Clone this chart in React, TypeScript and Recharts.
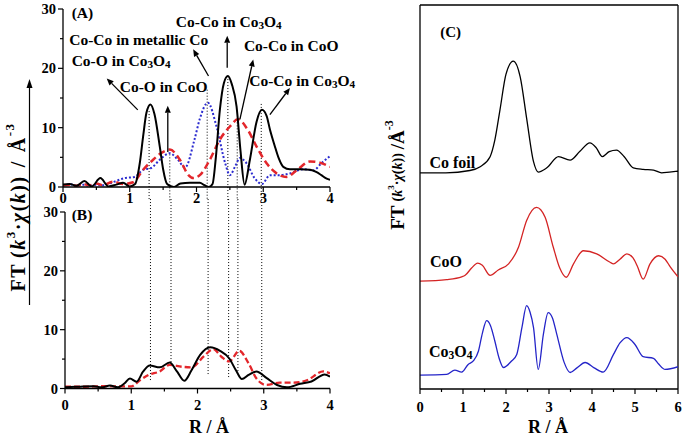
import React from 'react';
import { LineChart, Line, XAxis, YAxis, ReferenceLine, ReferenceDot } from 'recharts';

const FONT = "'Liberation Serif', 'Times New Roman', serif";

// ---------- Panel A (R / Å, FT magnitude) ----------
const A_SOLID: [number, number][] = [
  [0, 0.4], [0.1, 0.5], [0.2, 0.2], [0.32, 1.0], [0.43, 0.1], [0.56, 1.5], [0.68, 0.1], [0.8, 0.4], [0.9, 0.7],
  [1.0, 0.1], [1.08, 0.5], [1.15, 4], [1.2, 8.5], [1.25, 12.5], [1.31, 13.9], [1.37, 12.3], [1.45, 6.8], [1.5, 3],
  [1.56, 0.5], [1.66, 0], [1.76, 0.6], [1.9, 0.7], [2.05, 0.7], [2.12, 0.3], [2.18, 0], [2.24, 0.5], [2.29, 5],
  [2.35, 13], [2.41, 17.5], [2.47, 18.7], [2.53, 17.3], [2.6, 13.6], [2.66, 6], [2.72, 0.4], [2.8, 4.6], [2.9, 11],
  [2.98, 13], [3.05, 12], [3.1, 9.7], [3.17, 7], [3.23, 4.9], [3.3, 3.4], [3.4, 3.0], [3.55, 3.0], [3.7, 2.9],
  [3.8, 2.5], [3.87, 2.0], [3.95, 1.4], [4.0, 1.2],
];
const A_DASHED: [number, number][] = [
  [0, 0.3], [0.1, 0.4], [0.2, 0.2], [0.3, 0.5], [0.4, 0.3], [0.5, 0.6], [0.6, 0.3], [0.75, 0.9], [0.9, 0.5],
  [1.05, 0.8], [1.2, 2.9], [1.35, 4.6], [1.48, 5.8], [1.6, 6.3], [1.75, 4.6], [1.88, 2.0], [1.95, 1.5], [2.05, 2.0],
  [2.2, 4.6], [2.35, 8], [2.5, 10.2], [2.62, 11.4], [2.77, 9.6], [2.9, 6.8], [3.05, 4.0], [3.2, 2.3], [3.35, 1.7],
  [3.5, 2.8], [3.7, 4.3], [3.85, 4.1], [4.0, 3.4],
];
const A_DOTTED: [number, number][] = [
  [0, 0.2], [0.1, 0.5], [0.2, 0.2], [0.3, 0.4], [0.4, 0.2], [0.5, 0.4], [0.6, 0.3], [0.77, 0.9], [0.92, 1.5],
  [1.07, 1.7], [1.2, 2.9], [1.32, 3.2], [1.45, 4.6], [1.6, 5.7], [1.72, 4.6], [1.83, 3.3], [1.97, 8], [2.05, 11.5],
  [2.17, 14.2], [2.3, 10.2], [2.43, 4], [2.5, 2.0], [2.58, 3.5], [2.65, 4.9], [2.75, 4], [2.87, 1.5], [2.98, 0.5],
  [3.1, 2], [3.25, 2], [3.4, 2.3], [3.6, 3], [3.75, 2.8], [3.87, 4], [4.0, 5.2],
];

// ---------- Panel B ----------
const B_SOLID: [number, number][] = [
  [0, 0.2], [0.2, 0.3], [0.43, 0.4], [0.55, 0.2], [0.68, 0.5], [0.8, 0.2], [0.9, 0.9], [0.98, 1.7], [1.08, 1.15],
  [1.18, 2.9], [1.28, 3.9], [1.43, 3.6], [1.58, 4.4], [1.69, 2.9], [1.8, 1.3], [1.91, 3.1], [2.04, 5.7], [2.19, 7.0],
  [2.34, 6.4], [2.48, 5.1], [2.58, 3.1], [2.67, 1.6], [2.77, 2.3], [2.89, 2.9], [3.04, 1.8], [3.2, 0.6], [3.35, 0.2],
  [3.55, 0.8], [3.72, 1.2], [3.92, 2.4], [4.0, 2.0],
];
const B_DASHED: [number, number][] = [
  [0, 0.3], [0.3, 0.3], [0.6, 0.4], [0.88, 0.35], [1.0, 0.35], [1.13, 1.4], [1.26, 2.3], [1.43, 2.9], [1.58, 4.0],
  [1.76, 3.7], [1.91, 3.6], [2.09, 5.4], [2.24, 6.7], [2.36, 5.4], [2.48, 4.6], [2.63, 6.4], [2.77, 4.3], [2.89, 1.7],
  [3.04, 0.6], [3.24, 1.0], [3.45, 1.0], [3.65, 1.4], [3.9, 2.9], [4.0, 2.6],
];

// ---------- Panel C (offset curves, arbitrary units) ----------
const C_CO_FOIL: [number, number][] = [
  [0, 56.3], [0.6, 56.3], [1.16, 56.9], [1.4, 57.9], [1.63, 60.5], [1.74, 64.8], [1.86, 72.7], [2.0, 82], [2.17, 85.4],
  [2.33, 81.3], [2.48, 70.5], [2.64, 59.2], [2.75, 56.5], [2.95, 57.6], [3.22, 60.5], [3.49, 59.6], [3.72, 61.9],
  [3.95, 64.1], [4.1, 62.8], [4.24, 60.5], [4.4, 61.8], [4.57, 62.2], [4.75, 60.5], [4.96, 57.6], [5.19, 57.2],
  [5.43, 57.0], [5.62, 56.3], [5.8, 56.5], [6, 56.7],
];
const C_COO: [number, number][] = [
  [0, 28.1], [0.62, 28.5], [0.97, 29.2], [1.05, 29.6], [1.2, 31.5], [1.34, 32.8], [1.45, 32.2], [1.63, 29.6],
  [1.82, 31.0], [2.06, 32.6], [2.29, 36.9], [2.48, 43.9], [2.71, 47.3], [2.91, 44.7], [3.1, 36.9], [3.25, 31.5],
  [3.4, 29.1], [3.57, 32.6], [3.8, 36.0], [4.11, 35.2], [4.42, 33.0], [4.5, 32.6], [4.65, 33.8], [4.81, 35.2],
  [4.95, 34.2], [5.05, 32.1], [5.19, 28.6], [5.35, 32.6], [5.55, 34.7], [5.7, 33.8], [5.82, 31.8], [6, 29.2],
];
const C_CO3O4: [number, number][] = [
  [0, 3.6], [0.62, 3.8], [0.81, 4.9], [0.97, 4.4], [1.12, 6.4], [1.24, 7.3], [1.36, 9.9], [1.45, 14.5], [1.55, 17.8],
  [1.64, 16.5], [1.74, 12.5], [1.84, 8], [1.94, 5.6], [2.13, 7.3], [2.25, 9.0], [2.37, 16], [2.48, 21.7], [2.56, 20],
  [2.64, 16], [2.75, 5.1], [2.87, 14.3], [2.98, 19.9], [3.08, 18.5], [3.18, 14.3], [3.35, 7], [3.49, 4.3],
  [3.65, 5.5], [3.84, 6.9], [4.05, 5.5], [4.26, 4.4], [4.5, 9.0], [4.65, 12], [4.81, 13.4], [5.0, 11.6], [5.19, 8.4],
  [5.43, 8], [5.55, 6.5], [5.7, 5.1], [6, 5.8],
];

// ---------- ticks / guides / annotations ----------
const AB_X_TICKS = [0, 0.5, 1, 1.5, 2, 2.5, 3, 3.5, 4];
const C_X_TICKS = [0, 0.5, 1, 1.5, 2, 2.5, 3, 3.5, 4, 4.5, 5, 5.5, 6];
const AB_Y_TICKS = [0, 5, 10, 15, 20, 25, 30];
const GUIDE_R = [1.29, 1.6, 2.16, 2.47, 2.61, 2.97];
const GUIDE_TOP_A = [12.8, 5.5, 16.4, 18.7, 11.4, 14.0];
const GUIDE_BOTTOM_B = [1.4, 4.0, 2.3, 1.8, 2.7, 1.0];

const A_TEXTS = [
  { text: '(A)', r: 0.13, v: 28.5 },
  { text: 'Co-Co in Co3O4', r: 1.69, v: 26.9 },
  { text: 'Co-Co in metallic Co', r: 0.094, v: 24.0 },
  { text: 'Co-Co in CoO', r: 2.71, v: 22.9 },
  { text: 'Co-O in Co3O4', r: 0.13, v: 20.4 },
  { text: 'Co-O in CoO', r: 0.85, v: 16.0 },
  { text: 'Co-Co in Co3O4', r: 2.79, v: 17.0 },
];
const A_ARROWS = [
  { from: [1.12, 13.0], to: [0.655, 18.3] },
  { from: [1.57, 5.9], to: [1.57, 13.7] },
  { from: [2.18, 18.7], to: [1.95, 23.2] },
  { from: [2.46, 20.1], to: [2.46, 25.5] },
  { from: [2.65, 11.4], to: [2.85, 21.5] },
  { from: [3.1, 12.2], to: [3.4, 16.7] },
];
const B_TEXTS = [{ text: '(B)', r: 0.1, v: 28.6 }];
const C_TEXTS = [
  { text: '(C)', r: 0.47, v: 91.7, size: 15 },
  { text: 'Co foil', r: 0.22, v: 57.6, size: 16 },
  { text: 'CoO', r: 0.23, v: 31.8, size: 16 },
  { text: 'Co3O4', r: 0.21, v: 8.4, size: 16 },
];

const rows = (pts: [number, number][]) => pts.map(([r, v]) => ({ r, v }));

const RED = '#e3262b';
const BLUE = '#2b2bd0';

const chem = (s: string, size: number) => {
  const parts = s.split(/(\d)/).filter((p) => p !== '');
  let shifted = false;
  return parts.map((p, i) => {
    if (/^\d$/.test(p)) {
      const el = (
        <tspan key={i} fontSize={size * 0.72} dy={shifted ? 0 : 2}>
          {p}
        </tspan>
      );
      shifted = true;
      return el;
    }
    const el = (
      <tspan key={i} dy={shifted ? -2 : 0}>
        {p}
      </tspan>
    );
    shifted = false;
    return el;
  });
};

const textShape = (text: string, size: number) => (p: any) => (
  <text x={p.cx} y={p.cy} fontFamily={FONT} fontWeight="bold" fontSize={size} fill="#000">
    {chem(text, size)}
  </text>
);

const arrowShape = (p: any) => {
  const { x1, y1, x2, y2 } = p;
  const dx = x2 - x1;
  const dy = y2 - y1;
  const len = Math.sqrt(dx * dx + dy * dy) || 1;
  const ux = dx / len;
  const uy = dy / len;
  const hl = 7;
  const hw = 3;
  const bx = x2 - ux * hl;
  const by = y2 - uy * hl;
  const pts = `${x2},${y2} ${bx - uy * hw},${by + ux * hw} ${bx + uy * hw},${by - ux * hw}`;
  return (
    <g>
      <line x1={x1} y1={y1} x2={bx} y2={by} stroke="#000" strokeWidth={1.3} />
      <polygon points={pts} fill="#000" />
    </g>
  );
};

const bottomTick = (labelDy: number, size: number) => (props: any) => {
  const { x, y, payload } = props;
  const val = payload.value as number;
  const major = Math.abs(val - Math.round(val)) < 1e-6;
  return (
    <g>
      <line x1={x} x2={x} y1={y} y2={y + (major ? 5 : 3)} stroke="#000" strokeWidth={1.2} />
      {major && (
        <text x={x} y={y + labelDy} textAnchor="middle" dominantBaseline="central" fontFamily={FONT} fontWeight="bold" fontSize={size} fill="#000">
          {val}
        </text>
      )}
    </g>
  );
};

const leftTick = (props: any) => {
  const { x, y, payload } = props;
  const val = payload.value as number;
  const major = val % 10 === 0;
  return (
    <g>
      <line x1={x} x2={x - (major ? 5 : 3)} y1={y} y2={y} stroke="#000" strokeWidth={1.2} />
      {major && (
        <text x={x - 7} y={y} textAnchor="end" dominantBaseline="central" fontFamily={FONT} fontWeight="bold" fontSize={14.5} fill="#000">
          {val}
        </text>
      )}
    </g>
  );
};

const W = 685;
const H = 436;
const layer: React.CSSProperties = { position: 'absolute', left: 0, top: 0 };

export default function App() {
  const aSolid = rows(A_SOLID);
  const aDashed = rows(A_DASHED);
  const aDotted = rows(A_DOTTED);
  const bSolid = rows(B_SOLID);
  const bDashed = rows(B_DASHED);
  const cFoil = rows(C_CO_FOIL);
  const cCoO = rows(C_COO);
  const cCo3O4 = rows(C_CO3O4);

  return (
    <div style={{ position: 'absolute', left: 0, top: 0, width: W, height: H, background: '#fff', overflow: 'hidden' }}>
      {/* Panel A */}
      <div style={layer}>
        <LineChart width={W} height={H} margin={{ top: 9, right: 355, bottom: 229, left: 0 }}>
          <XAxis dataKey="r" type="number" domain={[0, 4]} ticks={AB_X_TICKS} interval={0} allowDataOverflow
            tickSize={0} tickMargin={0} tickLine={false} tick={bottomTick(10.5, 14.5)} height={20} stroke="#000" strokeWidth={1.3} />
          <YAxis type="number" domain={[0, 30]} ticks={AB_Y_TICKS} interval={0} allowDataOverflow width={63}
            tickSize={0} tickMargin={0} tickLine={false} tick={leftTick} stroke="#000" strokeWidth={1.3} />
          {GUIDE_R.map((r, i) => (
            <ReferenceLine key={'ga' + i} segment={[{ x: r, y: GUIDE_TOP_A[i] }, { x: r, y: -2.3 }]} ifOverflow="visible"
              stroke="#000" strokeWidth={1} strokeDasharray="1 2" />
          ))}
          <Line data={aDotted} dataKey="v" type="monotone" stroke={BLUE} strokeWidth={2} strokeDasharray="2 2" dot={false} isAnimationActive={false} />
          <Line data={aDashed} dataKey="v" type="monotone" stroke={RED} strokeWidth={2.5} strokeDasharray="7 4" dot={false} isAnimationActive={false} />
          <Line data={aSolid} dataKey="v" type="monotone" stroke="#000" strokeWidth={2} dot={false} isAnimationActive={false} />
          {A_ARROWS.map((a, i) => (
            <ReferenceLine key={'aa' + i} segment={[{ x: a.from[0], y: a.from[1] }, { x: a.to[0], y: a.to[1] }]} ifOverflow="visible" shape={arrowShape} />
          ))}
          {A_TEXTS.map((t, i) => (
            <ReferenceDot key={'at' + i} x={t.r} y={t.v} r={0} ifOverflow="visible" shape={textShape(t.text, 15.5)} />
          ))}
        </LineChart>
      </div>

      {/* Panel B */}
      <div style={layer}>
        <LineChart width={W} height={H} margin={{ top: 212, right: 355, bottom: 27.5, left: 0 }}>
          <XAxis dataKey="r" type="number" domain={[0, 4]} ticks={AB_X_TICKS} interval={0} allowDataOverflow
            tickSize={0} tickMargin={0} tickLine={false} tick={bottomTick(16.5, 14.5)} height={20} stroke="#000" strokeWidth={1.3} />
          <YAxis type="number" domain={[0, 30]} ticks={AB_Y_TICKS} interval={0} allowDataOverflow width={65}
            tickSize={0} tickMargin={0} tickLine={false} tick={leftTick} stroke="#000" strokeWidth={1.3} />
          {GUIDE_R.map((r, i) => (
            <ReferenceLine key={'gb' + i} segment={[{ x: r, y: 32.2 }, { x: r, y: GUIDE_BOTTOM_B[i] }]} ifOverflow="visible"
              stroke="#000" strokeWidth={1} strokeDasharray="1 2" />
          ))}
          <Line data={bDashed} dataKey="v" type="monotone" stroke={RED} strokeWidth={2.3} strokeDasharray="6 3" dot={false} isAnimationActive={false} />
          <Line data={bSolid} dataKey="v" type="monotone" stroke="#000" strokeWidth={2} dot={false} isAnimationActive={false} />
          {B_TEXTS.map((t, i) => (
            <ReferenceDot key={'bt' + i} x={t.r} y={t.v} r={0} ifOverflow="visible" shape={textShape(t.text, 15.5)} />
          ))}
        </LineChart>
      </div>

      {/* Panel C */}
      <div style={layer}>
        <LineChart width={W} height={H} margin={{ top: 5, right: 7, bottom: 27, left: 0 }}>
          <XAxis dataKey="r" type="number" domain={[0, 6]} ticks={C_X_TICKS} interval={0} allowDataOverflow
            tickSize={0} tickMargin={0} tickLine={false} tick={bottomTick(17.5, 14.5)} height={20} stroke="#000" strokeWidth={1.3} />
          <YAxis type="number" domain={[0, 100]} allowDataOverflow width={420} tick={false} tickLine={false} stroke="#000" strokeWidth={1.3} />
          <ReferenceLine y={100} stroke="#000" strokeWidth={1.3} ifOverflow="visible" />
          <ReferenceLine x={6} stroke="#000" strokeWidth={1.3} ifOverflow="visible" />
          <Line data={cFoil} dataKey="v" type="monotone" stroke="#000" strokeWidth={1.3} dot={false} isAnimationActive={false} />
          <Line data={cCoO} dataKey="v" type="monotone" stroke="#d42424" strokeWidth={1.3} dot={false} isAnimationActive={false} />
          <Line data={cCo3O4} dataKey="v" type="monotone" stroke="#2424c8" strokeWidth={1.3} dot={false} isAnimationActive={false} />
          {C_TEXTS.map((t, i) => (
            <ReferenceDot key={'ct' + i} x={t.r} y={t.v} r={0} ifOverflow="visible" shape={textShape(t.text, t.size)} />
          ))}
        </LineChart>
      </div>

      {/* Axis titles */}
      <svg width={W} height={H} style={{ ...layer, pointerEvents: 'none' }}>
        <text transform="translate(18,207) rotate(-90)" textAnchor="middle" dominantBaseline="central"
          fontFamily={FONT} fontWeight="bold" fontSize={20} fill="#000" letterSpacing={1.5}>
          <tspan>FT</tspan>
          <tspan dx={5}>(</tspan>
          <tspan fontStyle="italic">k</tspan>
          <tspan fontSize={13} dy={-8}>3</tspan>
          <tspan dy={8}>·</tspan>
          <tspan fontStyle="italic">χ</tspan>
          <tspan>(</tspan>
          <tspan fontStyle="italic">k</tspan>
          <tspan>))</tspan>
          <tspan dx={8}>/</tspan>
          <tspan dx={8}>Å</tspan>
          <tspan fontSize={13} dy={-9}>-3</tspan>
        </text>
        <line x1={29.5} x2={29.5} y1={86} y2={305} stroke="#000" strokeWidth={1.2} />
        <polygon points="29.5,79 26.5,88 32.5,88" fill="#000" />
        <text transform="translate(397,175) rotate(-90)" textAnchor="middle" dominantBaseline="central"
          fontFamily={FONT} fontWeight="bold" fontSize={19} fill="#000">
          <tspan>FT</tspan>
          <tspan dx={4} fontSize={14}>(</tspan>
          <tspan fontSize={14} fontStyle="italic">k</tspan>
          <tspan fontSize={9} dy={-6}>3</tspan>
          <tspan fontSize={14} dy={6}>·</tspan>
          <tspan fontSize={14} fontStyle="italic">χ</tspan>
          <tspan fontSize={14}>(</tspan>
          <tspan fontSize={14} fontStyle="italic">k</tspan>
          <tspan fontSize={14}>))</tspan>
          <tspan dx={4}>/Å</tspan>
          <tspan fontSize={12} dy={-8}>-3</tspan>
        </text>
        <text x={209} y={433} textAnchor="middle" fontFamily={FONT} fontWeight="bold" fontSize={18} fill="#000">R / Å</text>
        <text x={548} y={433} textAnchor="middle" fontFamily={FONT} fontWeight="bold" fontSize={18} fill="#000">R / Å</text>
      </svg>
    </div>
  );
}
